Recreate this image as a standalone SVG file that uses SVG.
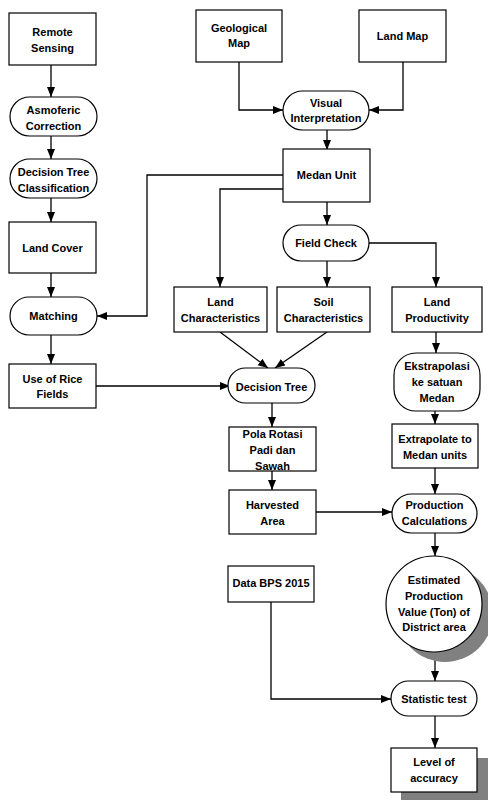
<svg xmlns="http://www.w3.org/2000/svg" width="488" height="800" viewBox="0 0 488 800">
<defs>
<marker id="ah" markerWidth="10" markerHeight="10" viewBox="0 0 10 10" refX="10" refY="5" orient="auto" markerUnits="userSpaceOnUse">
<path d="M0,1 L10,5 L0,9 Z" fill="#000"/>
</marker>
<style>
.n{fill:#fff;stroke:#000;stroke-width:1.2}
.sh{fill:#808080;stroke:none}
text{font-family:"Liberation Sans",Arial,sans-serif;font-weight:bold;font-size:11px;fill:#000;text-anchor:middle;dominant-baseline:central}
.c{fill:none;stroke:#000;stroke-width:1.3;marker-end:url(#ah)}
.l{fill:none;stroke:#000;stroke-width:1.3}
</style>
</defs>
<rect width="488" height="800" fill="#fff"/>

<g id="connectors">
<path class="c" d="M51,65 V97"/>
<path class="c" d="M51,136 V159"/>
<path class="c" d="M51,198 V222"/>
<path class="c" d="M51,273 V297"/>
<path class="c" d="M51,335 V364"/>
<path class="c" d="M96,386 H230"/>
<path class="c" d="M239,62 V110 H283"/>
<path class="c" d="M403,62 V110 H369"/>
<path class="c" d="M327,130 V150"/>
<path class="c" d="M283,175 H147 V316 H97"/>
<path class="c" d="M283,189 H220 V287"/>
<path class="c" d="M327,202 V225"/>
<path class="c" d="M327,261 V287"/>
<path class="c" d="M369,243 H436 V287"/>
<path class="c" d="M220,332 L268,368"/>
<path class="c" d="M327,332 L275,368"/>
<path class="c" d="M436,332 V353"/>
<path class="c" d="M272,403 V427"/>
<path class="c" d="M272,471 V490"/>
<path class="c" d="M316,512 H392"/>
<path class="c" d="M435,411 V424"/>
<path class="c" d="M435,468 V494"/>
<path class="c" d="M435,533 V556"/>
<path class="c" d="M271,602 V699 H391"/>
<path class="c" d="M435,652 V681"/>
<path class="c" d="M435,716 V748"/>
</g>

<g id="remote-sensing">
<rect class="n" x="9" y="13" width="87" height="52"/>
<text x="52.5" y="32">Remote</text>
<text x="52.5" y="48">Sensing</text>
</g>
<g id="asmoferic-correction">
<rect class="n" x="10" y="97" width="87" height="39" rx="19.5"/>
<text x="53.5" y="110">Asmoferic</text>
<text x="53.5" y="126">Correction</text>
</g>
<g id="decision-tree-classification">
<rect class="n" x="10" y="159" width="87" height="39" rx="19.5"/>
<text x="53.5" y="172">Decision Tree</text>
<text x="53.5" y="188">Classification</text>
</g>
<g id="land-cover">
<rect class="n" x="9" y="222" width="87" height="51"/>
<text x="52.5" y="248">Land Cover</text>
</g>
<g id="matching">
<rect class="n" x="10" y="297" width="87" height="38" rx="19"/>
<text x="53.5" y="316">Matching</text>
</g>
<g id="use-of-rice-fields">
<rect class="n" x="9" y="364" width="87" height="44"/>
<text x="52.5" y="379">Use of Rice</text>
<text x="52.5" y="394">Fields</text>
</g>

<g id="geological-map">
<rect class="n" x="196" y="10" width="86" height="52"/>
<text x="239" y="28">Geological</text>
<text x="239" y="43">Map</text>
</g>
<g id="land-map">
<rect class="n" x="359" y="10" width="87" height="52"/>
<text x="402.5" y="36">Land Map</text>
</g>
<g id="visual-interpretation">
<rect class="n" x="283" y="91" width="86" height="39" rx="19.5"/>
<text x="326" y="103">Visual</text>
<text x="326" y="118">Interpretation</text>
</g>
<g id="medan-unit">
<rect class="n" x="283" y="149" width="87" height="53"/>
<text x="326.5" y="175">Medan Unit</text>
</g>
<g id="field-check">
<rect class="n" x="283" y="225" width="86" height="36" rx="18"/>
<text x="326" y="243">Field Check</text>
</g>
<g id="land-characteristics">
<rect class="n" x="174" y="287" width="93" height="45"/>
<text x="220.5" y="302">Land</text>
<text x="220.5" y="318">Characteristics</text>
</g>
<g id="soil-characteristics">
<rect class="n" x="277" y="287" width="93" height="45"/>
<text x="323.5" y="302">Soil</text>
<text x="323.5" y="318">Characteristics</text>
</g>
<g id="land-productivity">
<rect class="n" x="392" y="287" width="90" height="45"/>
<text x="437" y="302">Land</text>
<text x="437" y="318">Productivity</text>
</g>
<g id="decision-tree">
<rect class="n" x="228" y="368" width="87" height="35" rx="17.5"/>
<text x="271.5" y="387">Decision Tree</text>
</g>
<g id="ekstrapolasi">
<rect class="n" x="394" y="353" width="86" height="58" rx="22"/>
<text x="437" y="366">Ekstrapolasi</text>
<text x="437" y="382">ke satuan</text>
<text x="437" y="398">Medan</text>
</g>
<g id="pola-rotasi">
<rect class="n" x="229" y="427" width="87" height="44"/>
<text x="272.5" y="434">Pola Rotasi</text>
<text x="272.5" y="450">Padi dan</text>
<text x="272.5" y="466">Sawah</text>
</g>
<g id="extrapolate">
<rect class="n" x="392" y="424" width="86" height="44"/>
<text x="435" y="439">Extrapolate to</text>
<text x="435" y="455">Medan units</text>
</g>
<g id="harvested-area">
<rect class="n" x="229" y="490" width="87" height="44"/>
<text x="272.5" y="505">Harvested</text>
<text x="272.5" y="521">Area</text>
</g>
<g id="production-calculations">
<rect class="n" x="392" y="494" width="85" height="39" rx="19.5"/>
<text x="434.5" y="505">Production</text>
<text x="434.5" y="521">Calculations</text>
</g>
<g id="estimated-production">
<circle class="sh" cx="445" cy="614" r="48"/>
<circle class="n" cx="434" cy="604" r="48"/>
<text x="434" y="580">Estimated</text>
<text x="434" y="596">Production</text>
<text x="434" y="612">Value (Ton) of</text>
<text x="434" y="627">District area</text>
</g>
<g id="data-bps">
<rect class="n" x="228" y="566" width="86" height="36"/>
<text x="271" y="583">Data BPS 2015</text>
</g>
<g id="statistic-test">
<rect class="n" x="391" y="681" width="86" height="35" rx="17.5"/>
<text x="434" y="699">Statistic test</text>
</g>
<g id="level-of-accuracy">
<rect class="sh" x="401" y="758" width="87" height="42"/>
<rect class="n" x="391" y="748" width="86" height="44"/>
<text x="434" y="762">Level of</text>
<text x="434" y="778">accuracy</text>
</g>
</svg>
